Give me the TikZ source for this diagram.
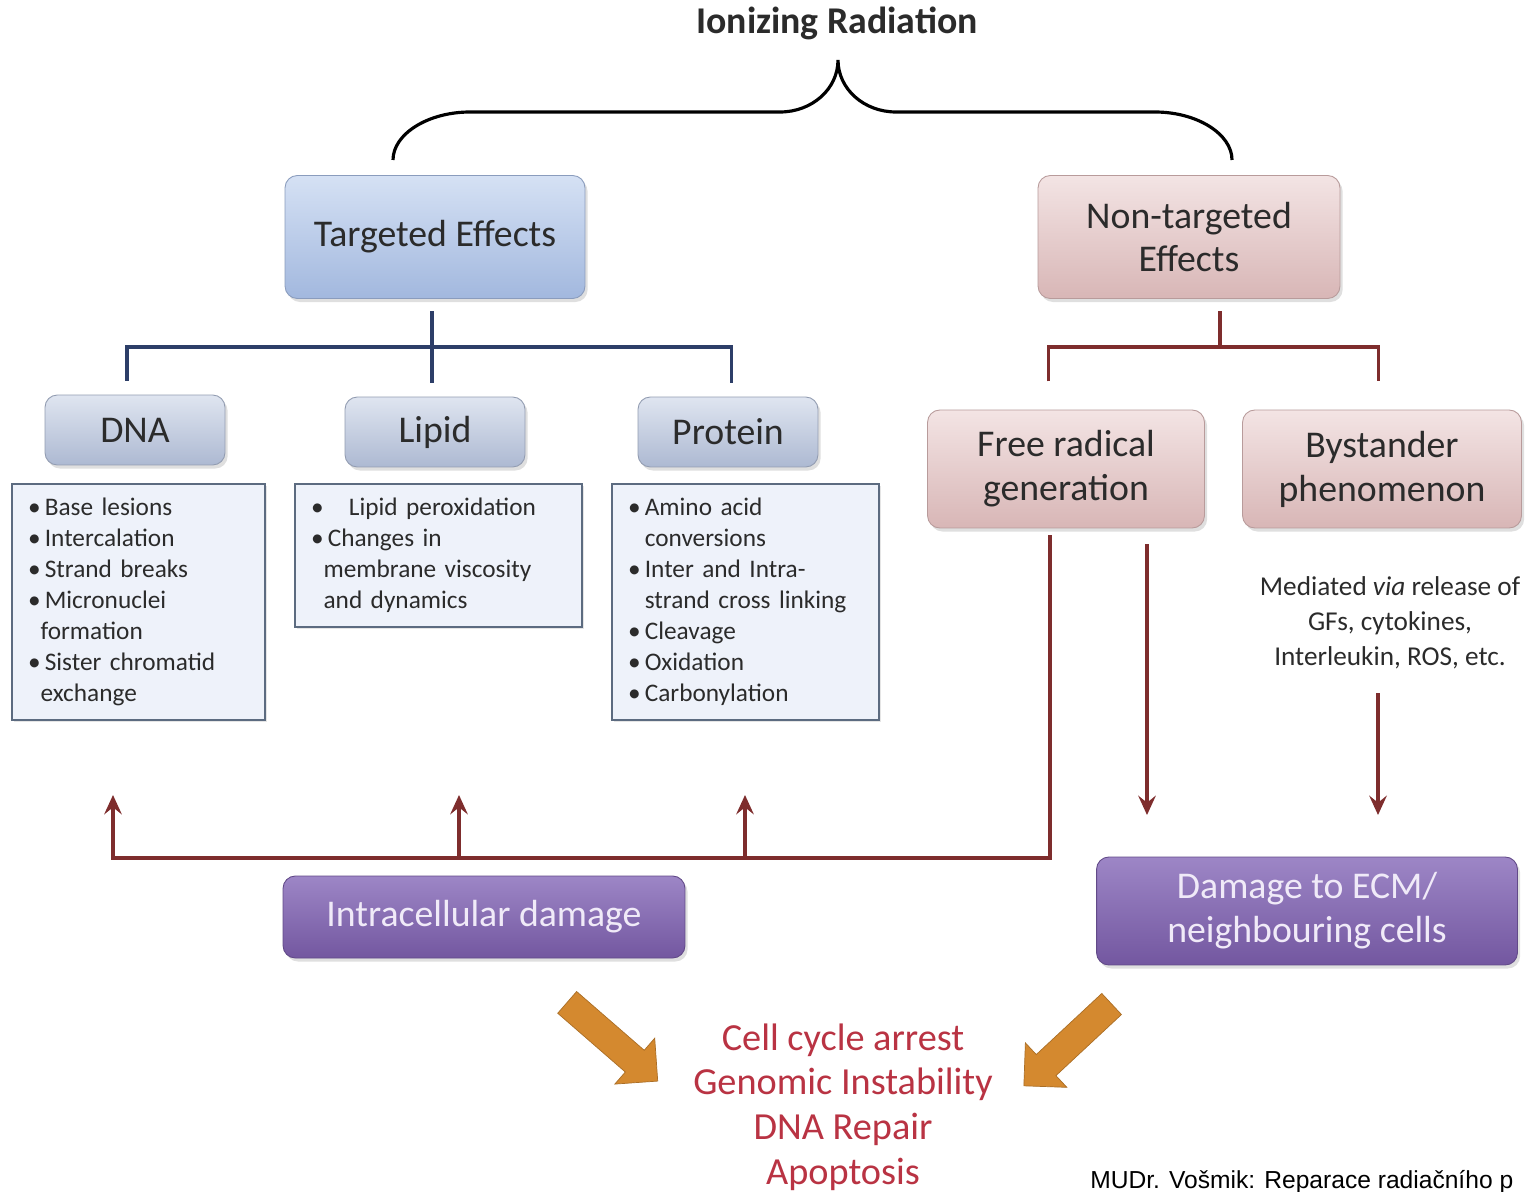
\documentclass[tikz,border=0pt]{standalone}
\usepackage{fontspec}
\setmainfont{Carlito}
\newfontfamily\footfont{Liberation Sans}
\usepackage{tikz}
\usetikzlibrary{arrows.meta, shadows, shapes.arrows}

\definecolor{blueTop}{HTML}{D5E1F4}
\definecolor{blueBot}{HTML}{A2B8DE}
\definecolor{pinkTop}{HTML}{F3E4E4}
\definecolor{pinkBot}{HTML}{D8B6B6}
\definecolor{greyTop}{HTML}{DFE5F0}
\definecolor{greyBot}{HTML}{ADB9D2}
\definecolor{purpTop}{HTML}{9D86C6}
\definecolor{purpBot}{HTML}{7357A0}
\definecolor{listFill}{HTML}{EEF2FA}
\definecolor{listEdge}{HTML}{5C6B80}
\definecolor{navyLine}{HTML}{2D3E68}
\definecolor{lineRed}{HTML}{7E2D2D}
\definecolor{orangeArr}{HTML}{D4892F}
\definecolor{outRed}{HTML}{B93343}
\definecolor{inkDark}{HTML}{2B2B2B}
\definecolor{lavText}{HTML}{F0EAF8}

\begin{document}
\begin{tikzpicture}[x=0.02cm, y=-0.02cm]
    % Styles
    \tikzstyle{softshadow} = [drop shadow={opacity=0.25, shadow xshift=1.5pt, shadow yshift=-2pt}]
    \tikzstyle{bigfont} = [font=\fontsize{21.5}{25}\selectfont]
    \tikzstyle{targbox} = [rectangle, rounded corners=7pt, softshadow, bigfont, align=center, text=inkDark, top color=blueTop, bottom color=blueBot, draw=blueBot!85!black, line width=0.5pt]
    \tikzstyle{ntbox} = [targbox, top color=pinkTop, bottom color=pinkBot, draw=pinkBot!85!black]
    \tikzstyle{molbox} = [targbox, top color=greyTop, bottom color=greyBot, draw=greyBot!85!black, minimum width=3.6cm, minimum height=1.4cm]
    \tikzstyle{dmgbox} = [targbox, top color=purpTop, bottom color=purpBot, draw=purpBot!85!black, text=lavText]
    \tikzstyle{listbox} = [rectangle, draw=listEdge, line width=1.2pt, fill=listFill, align=left, inner xsep=9pt, text=inkDark, font=\fontsize{14.4}{17.6}\selectfont, drop shadow={opacity=0.2, shadow xshift=1pt, shadow yshift=-1pt}]
    \tikzstyle{bline} = [draw=navyLine, line width=1.9pt]
    \tikzstyle{rline} = [draw=lineRed, line width=1.8pt]
    \tikzstyle{rarrow} = [rline, -{Stealth[length=11pt, width=10pt, inset=4pt]}]
    \tikzstyle{fatarrow} = [single arrow, fill=orangeArr, draw=orangeArr!80!black, line width=0.4pt, minimum height=2.4cm, single arrow head extend=0.32cm, inner sep=8pt]

    \useasboundingbox (0,0) rectangle (1540,1192);
    \fill[white] (0,0) rectangle (1540,1192);

    % Title and brace
    \node[font=\fontsize{21.5}{25}\selectfont\bfseries, text=inkDark] (title) at (837,23) {Ionizing Radiation};
    \coordinate (bl) at (393,160);
    \coordinate (bt) at (838,60);
    \coordinate (br) at (1232,160);
    \draw[line width=1.8pt] (bl) .. controls (393,134) and (428,112) .. (470,112) -- (780,112)
        .. controls (812,112) and (838,89) .. (bt)
        .. controls (838,89) and (864,112) .. (896,112) -- (1155,112)
        .. controls (1197,112) and (1232,134) .. (br);

    % Nodes
    \node[targbox, minimum width=6cm, minimum height=2.46cm] (targ) at (435,237) {Targeted Effects};
    \node[ntbox, minimum width=6.04cm, minimum height=2.46cm] (nontarg) at (1189,237) {Non-targeted\\Effects};

    \node[molbox] (dna) at (135,430) {DNA};
    \node[molbox] (lipid) at (435,432) {Lipid};
    \node[molbox] (protein) at (728,432) {Protein};

    \node[listbox, text width=4.42cm, minimum height=4.72cm] (dnalist) at (138.5,602)
        {\textbullet\,Base lesions\\
         \textbullet\,Intercalation\\
         \textbullet\,Strand breaks\\
         \textbullet\,Micronuclei\\
         \hphantom{\textbullet}formation\\
         \textbullet\,Sister chromatid\\
         \hphantom{\textbullet}exchange};
    \node[listbox, text width=5.1cm, minimum height=2.86cm] (lipidlist) at (438.5,555.5)
        {\textbullet\ \ \ Lipid peroxidation\\
         \textbullet\,Changes in\\
         \hphantom{\textbullet}membrane viscosity\\
         \hphantom{\textbullet}and dynamics};
    \node[listbox, text width=4.7cm, minimum height=4.72cm] (protlist) at (745.5,602)
        {\textbullet\,Amino acid\\
         \hphantom{\textbullet\,}conversions\\
         \textbullet\,Inter and Intra-\\
         \hphantom{\textbullet\,}strand cross linking\\
         \textbullet\,Cleavage\\
         \textbullet\,Oxidation\\
         \textbullet\,Carbonylation};

    \node[ntbox, minimum width=5.54cm, minimum height=2.36cm] (frad) at (1066,469) {Free radical\\generation};
    \node[ntbox, minimum width=5.58cm, minimum height=2.36cm] (bystand) at (1382,469) {Bystander\\phenomenon};
    \node[align=center, text=inkDark, font=\fontsize{15.5}{20}\selectfont] (medtext) at (1390,623)
        {Mediated \emph{via} release of\\GFs, cytokines,\\Interleukin, ROS, etc.};

    \node[dmgbox, minimum width=8.04cm, minimum height=1.64cm] (intra) at (484,917) {Intracellular damage};
    \node[dmgbox, minimum width=8.42cm, minimum height=2.16cm] (ecm) at (1307,911) {Damage to ECM/\\neighbouring cells};

    \node[align=center, text=outRed, font=\fontsize{21.8}{25.5}\selectfont] (outcome) at (843,1107)
        {Cell cycle arrest\\Genomic Instability\\DNA Repair\\Apoptosis};
    \node[fatarrow, rotate=-41] (oleft) at (607,1037) {};
    \node[fatarrow, rotate=-137] (oright) at (1073,1040) {};

    \node[anchor=base west, inner sep=0pt, font=\footfont\fontsize{14}{17}\selectfont] (footer) at (1090,1188)
        {MUDr. Vošmik: Reparace radiačního p};

    % Arrows
    \coordinate (tbar) at (432,347);
    \draw[bline, shorten <=7pt, shorten >=8pt] (targ.south -| tbar) -- (tbar |- lipid.north);
    \draw[bline, shorten <=8pt, shorten >=8pt] ([xshift=-4.5pt]dna.north) |- (tbar) -| ([xshift=2pt]protein.north);

    \coordinate (nbar) at (1220,347);
    \draw[rline, shorten <=7pt] (nontarg.south -| nbar) -- (nbar);
    \draw[rline, shorten <=16pt, shorten >=16pt] ([xshift=-10pt]frad.north) |- (nbar) -| ([xshift=-2pt]bystand.north);

    \coordinate (frtip) at (1147,815);
    \coordinate (bytip) at (1378,815);
    \draw[rarrow, shorten <=9pt] (frad.south -| frtip) -- (frtip);
    \draw[rarrow, shorten <=10pt] (medtext.south -| bytip) -- (bytip);

    \coordinate (rcorner) at (1050,858);
    \coordinate (upA) at (113,795);
    \coordinate (upB) at (459,795);
    \coordinate (upC) at (745,795);
    \draw[rarrow, shorten <=4pt] (frad.south -| rcorner) -- (rcorner) -| (upA);
    \draw[rarrow] (upB |- rcorner) -- (upB);
    \draw[rarrow] (upC |- rcorner) -- (upC);
\end{tikzpicture}
\end{document}
